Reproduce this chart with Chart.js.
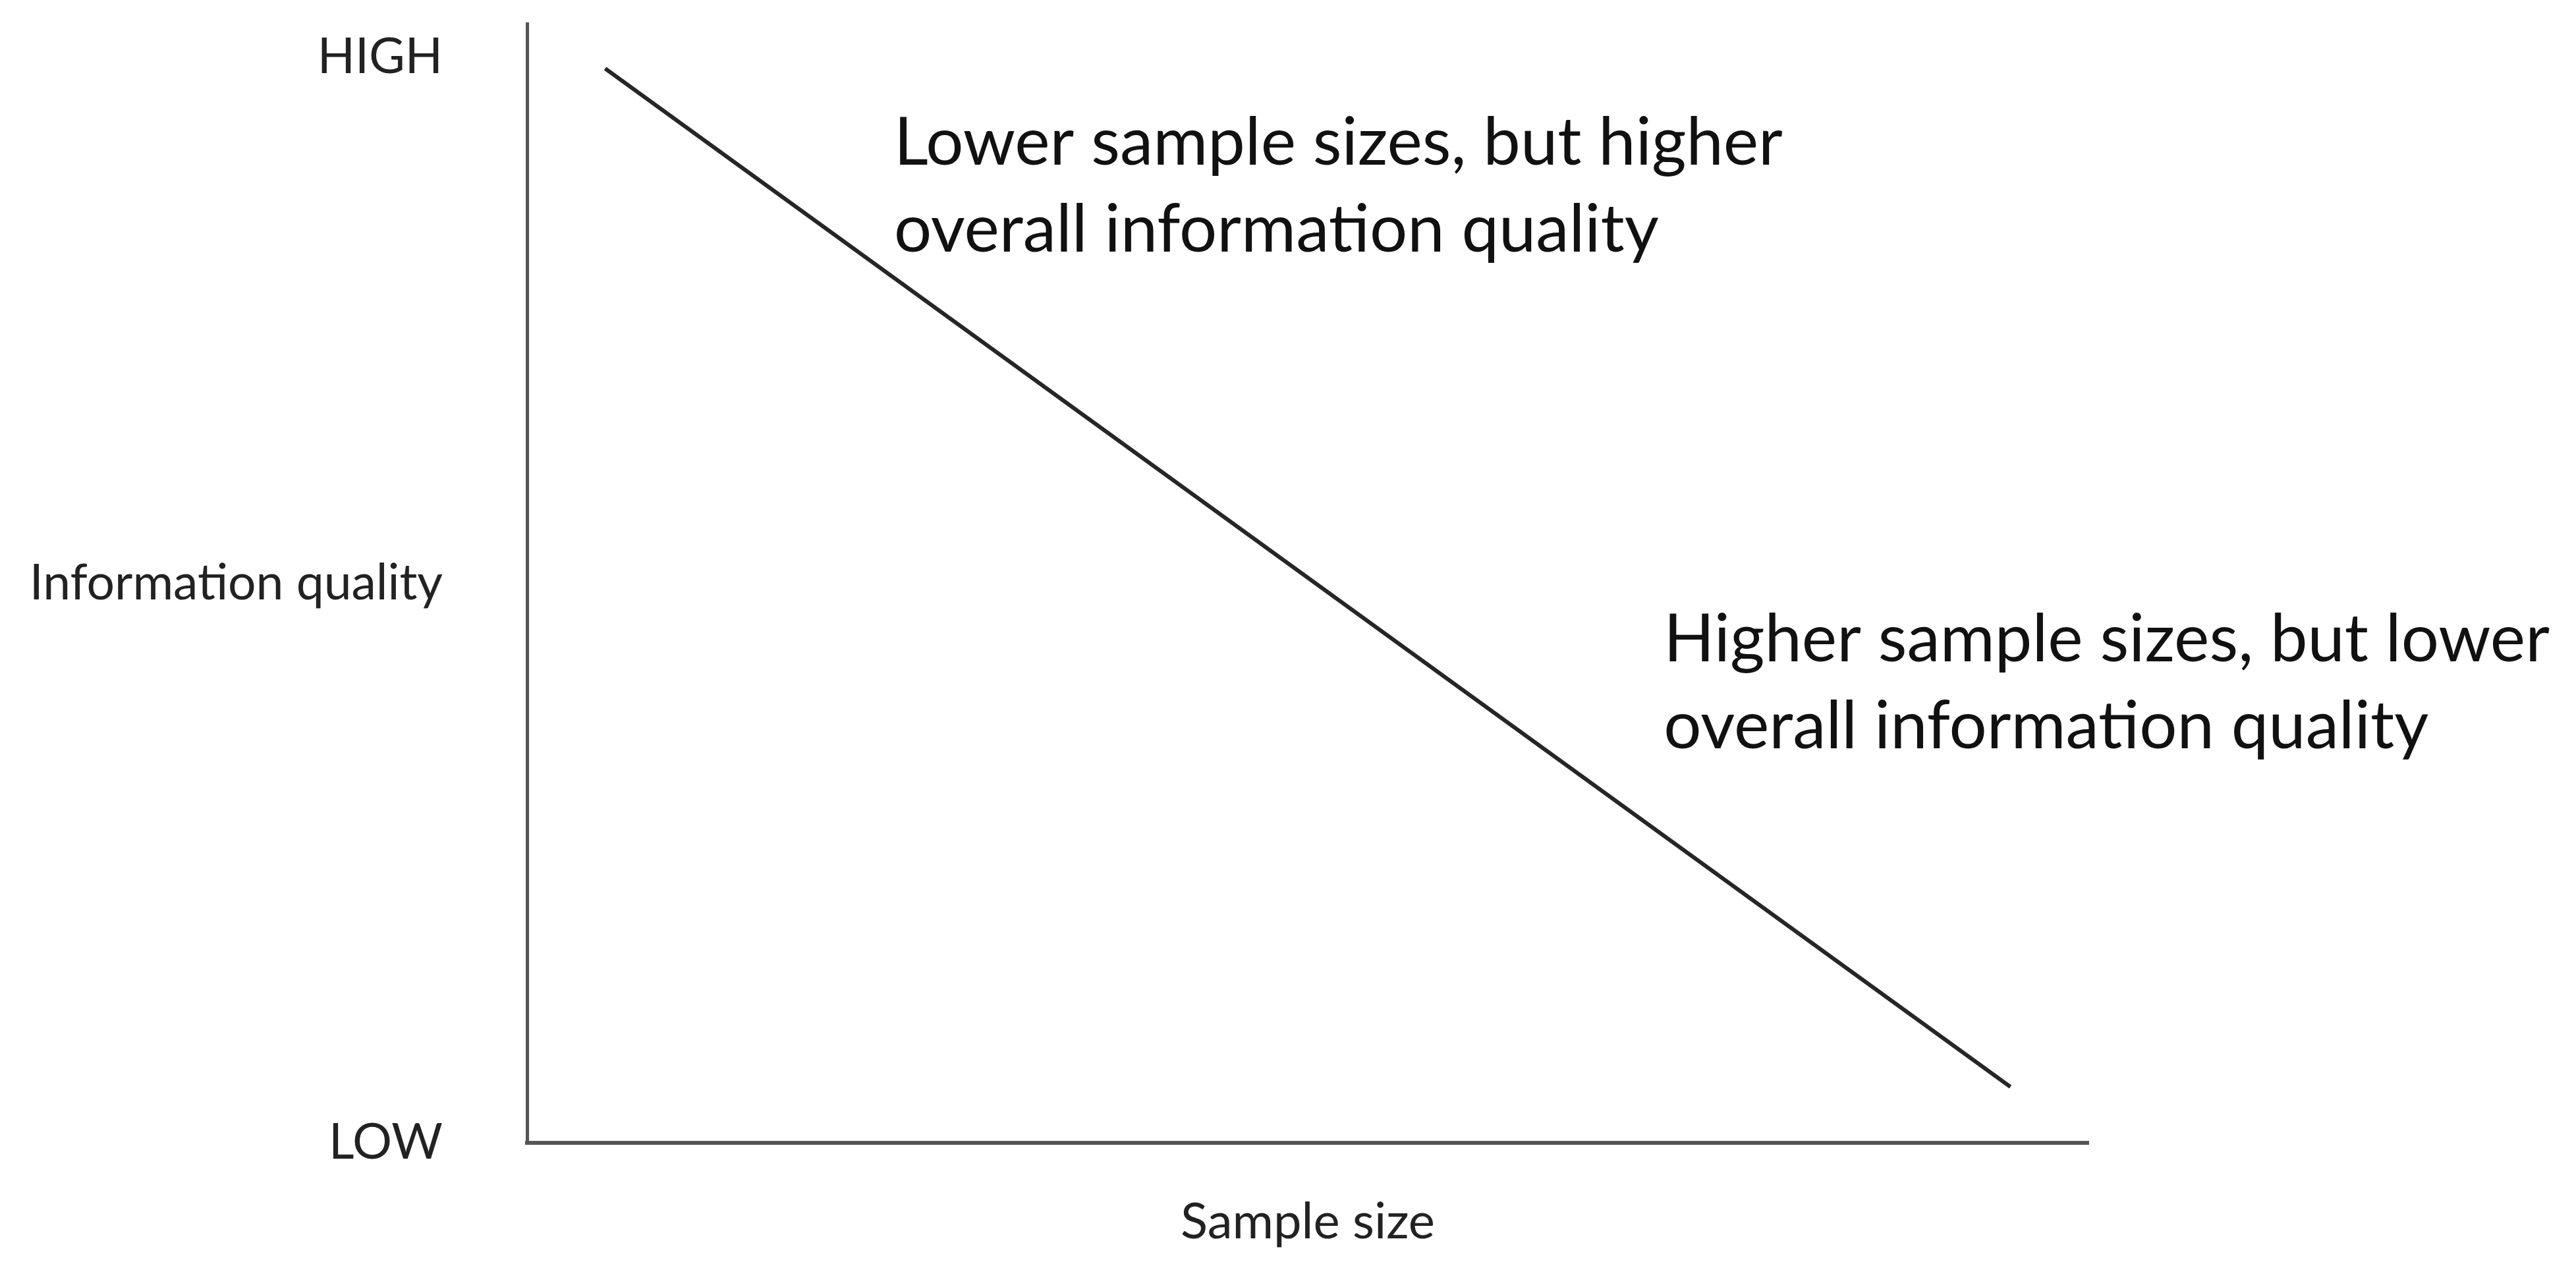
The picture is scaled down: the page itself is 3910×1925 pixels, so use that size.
<!DOCTYPE html>
<html>
<head>
<meta charset="utf-8">
<script src="https://cdn.jsdelivr.net/npm/chart.js@4"></script>
<style>
    html, body { margin: 0; padding: 0; background: #fff; }
    #wrap { width: 3910px; height: 1925px; position: relative; }
</style>
</head>
<body>
<div id="wrap"><canvas id="chart"></canvas></div>
<script>
// Trade-off line: sample size (x) vs information quality (y), both on a 0-100 scale
const sampleSize = [5, 95];
const infoQuality = [96, 5];

// Y axis tick positions and labels
const yTickValues = [0, 50, 97];
const yTickLabels = ['LOW', 'Information quality', 'HIGH'];

// Annotation texts
const noteLower = ['Lower sample sizes, but higher', 'overall information quality'];
const noteHigher = ['Higher sample sizes, but lower', 'overall information quality'];

// Draws multi-line notes anchored in data coordinates
const notesPlugin = {
    id: 'notes',
    afterDatasetsDraw(chart, args, opts) {
        const { ctx, scales: { x, y } } = chart;
        ctx.save();
        ctx.fillStyle = opts.color;
        ctx.font = opts.font;
        ctx.textAlign = 'left';
        ctx.textBaseline = 'alphabetic';
        opts.items.forEach(item => {
            const px = x.getPixelForValue(item.x);
            const py = y.getPixelForValue(item.y);
            item.lines.forEach((line, i) => {
                ctx.fillText(line, px, py + i * opts.lineHeight);
            });
        });
        ctx.restore();
    }
};

Chart.defaults.font.family = 'Lato';
Chart.defaults.color = '#1a1a1a';

new Chart(document.getElementById('chart'), {
    type: 'line',
    data: {
        datasets: [{
            data: sampleSize.map((s, i) => ({ x: s, y: infoQuality[i] })),
            borderColor: '#262626',
            borderWidth: 6,
            pointRadius: 0,
            tension: 0,
            fill: false
        }]
    },
    options: {
        responsive: true,
        maintainAspectRatio: false,
        devicePixelRatio: 1,
        animation: false,
        layout: { padding: { top: 36, right: 740, left: 0, bottom: 0 } },
        plugins: {
            legend: { display: false },
            tooltip: { enabled: false },
            notes: {
                color: '#111',
                font: '101px Lato',
                lineHeight: 132,
                items: [
                    { x: 23.5, y: 87.4, lines: noteLower },
                    { x: 72.8, y: 43.0, lines: noteHigher }
                ]
            }
        },
        scales: {
            x: {
                type: 'linear',
                min: 0,
                max: 100,
                grid: { display: false },
                border: { display: true, color: '#555', width: 6 },
                ticks: { display: false },
                title: {
                    display: true,
                    text: 'Sample size',
                    color: '#222',
                    font: { size: 76 },
                    padding: { top: 0, bottom: 24 }
                },
                afterFit(scale) { scale.height = 190; }
            },
            y: {
                type: 'linear',
                min: 0,
                max: 100,
                grid: { display: false },
                border: { display: true, color: '#555', width: 5 },
                afterBuildTicks(scale) {
                    scale.ticks = yTickValues.map(v => ({ value: v }));
                },
                ticks: {
                    color: '#222',
                    font: { size: 75 },
                    padding: 120,
                    callback: (v) => yTickLabels[yTickValues.indexOf(v)]
                },
                afterFit(scale) {
                    scale.width = 800;
                    scale.paddingTop = 0;
                    scale.paddingBottom = 0;
                }
            }
        }
    },
    plugins: [notesPlugin]
});
</script>
</body>
</html>
